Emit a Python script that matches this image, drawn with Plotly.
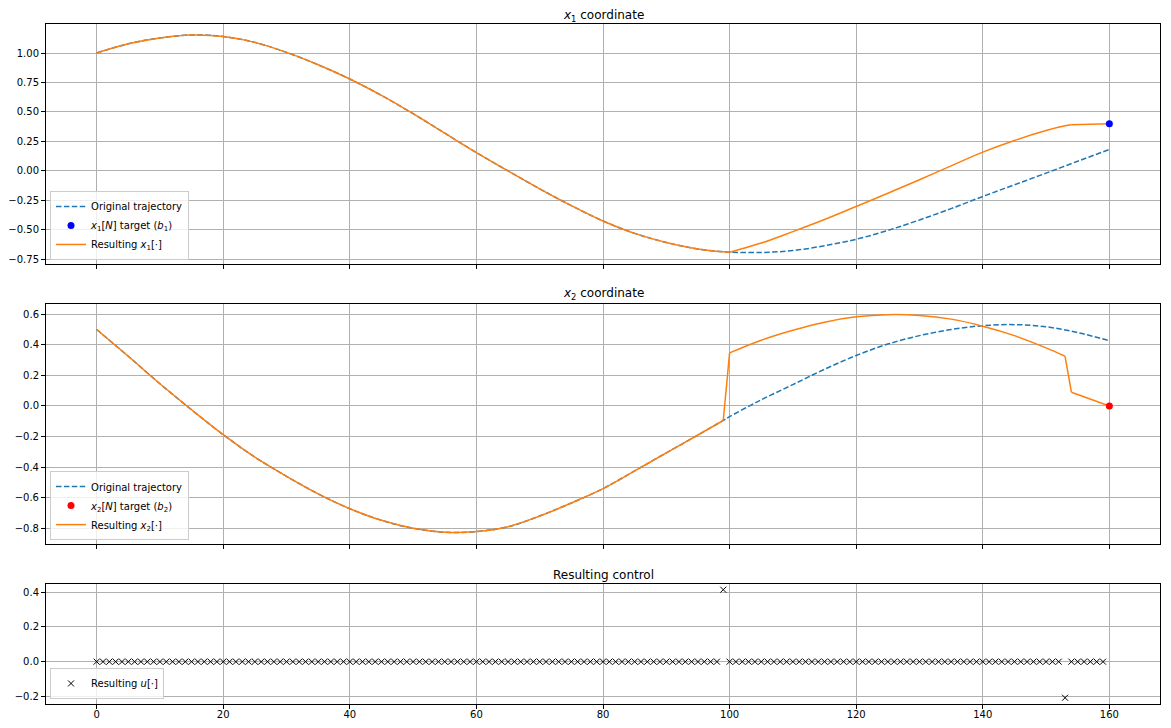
import plotly.graph_objects as go
from plotly.subplots import make_subplots

# ---- data ----
n_orig = [0, 5, 10, 15, 20, 25, 30, 35, 40, 45, 50, 55, 60, 65, 70, 75, 80, 85, 90, 95,
          99, 100, 105, 110, 115, 120, 125, 130, 135, 140, 145, 150, 155, 160]
x1_orig = [1.000, 1.078, 1.128, 1.153, 1.140, 1.090, 1.005, 0.900, 0.779, 0.640, 0.485, 0.320,
           0.155, 0.000, -0.152, -0.295, -0.425, -0.530, -0.607, -0.663,
           -0.687, -0.690, -0.692, -0.676, -0.635, -0.580, -0.505, -0.416, -0.320, -0.217,
           -0.118, -0.019, 0.082, 0.182]
x2_orig = [0.500, 0.325, 0.145, -0.025, -0.188, -0.335, -0.460, -0.575, -0.672, -0.748, -0.800,
           -0.826, -0.822, -0.790, -0.720, -0.635, -0.541, -0.425, -0.307, -0.190,
           -0.095, -0.070, 0.040, 0.140, 0.240, 0.330, 0.405, 0.460, 0.500, 0.525,
           0.532, 0.518, 0.480, 0.427]

n_res = [0, 5, 10, 15, 20, 25, 30, 35, 40, 45, 50, 55, 60, 65, 70, 75, 80, 85, 90, 95,
         99, 100, 105, 110, 115, 120, 125, 130, 135, 140, 145, 150, 153, 154, 160]
x1_res = [1.000, 1.078, 1.128, 1.153, 1.140, 1.090, 1.005, 0.900, 0.779, 0.640, 0.485, 0.320,
          0.155, 0.000, -0.152, -0.295, -0.425, -0.530, -0.607, -0.663,
          -0.687, -0.690, -0.612, -0.515, -0.413, -0.302, -0.190, -0.075, 0.043, 0.159,
          0.258, 0.342, 0.382, 0.391, 0.400]
x2_res = [0.500, 0.325, 0.145, -0.025, -0.188, -0.335, -0.460, -0.575, -0.672, -0.748, -0.800,
          -0.826, -0.822, -0.790, -0.720, -0.635, -0.541, -0.425, -0.307, -0.190,
          -0.095, 0.347, 0.430, 0.495, 0.548, 0.583, 0.597, 0.592, 0.568, 0.522,
          0.460, 0.380, 0.325, 0.090, 0.000]

# steps where the resulting trajectories have a kink / jump
x1_breaks = [100, 154]
x2_breaks = [99, 100, 153, 154]

n_target = [160]
x1_target = [0.40]
x2_target = [0.00]

n_u = list(range(160))
u_values = [0.0] * 99 + [0.415] + [0.0] * 53 + [-0.208] + [0.0] * 6

# ---- figure ----
BLUE = "#1f77b4"
ORANGE = "#ff7f0e"
FONT = "DejaVu Sans"


def segments(n, v, breaks):
    """Split a series at the given steps (endpoints shared) so each smooth
    piece can be drawn as a spline without overshooting the jumps."""
    idx = [0] + [n.index(b) for b in breaks] + [len(n) - 1]
    return [(n[a:b + 1], v[a:b + 1]) for a, b in zip(idx[:-1], idx[1:])]


fig = make_subplots(rows=3, cols=1, shared_xaxes=True)


def add_result(n, v, breaks, name, legend, row):
    for k, (sn, sv) in enumerate(segments(n, v, breaks)):
        fig.add_trace(go.Scatter(x=sn, y=sv, mode="lines", name=name,
                                 line=dict(color=ORANGE, width=1.5, shape="spline",
                                           smoothing=1.0),
                                 legend=legend, legendgroup=legend + "res",
                                 showlegend=(k == 0), legendrank=3), row=row, col=1)


# panel 1
fig.add_trace(go.Scatter(x=n_orig, y=x1_orig, mode="lines", name="Original trajectory",
                         line=dict(color=BLUE, width=1.5, dash="5.5px,2.4px",
                                   shape="spline", smoothing=1.0),
                         legend="legend", legendrank=1), row=1, col=1)
add_result(n_res, x1_res, x1_breaks, "Resulting <i>x</i><sub>1</sub>[·]", "legend", 1)
fig.add_trace(go.Scatter(x=n_target, y=x1_target, mode="markers",
                         name="<i>x</i><sub>1</sub>[<i>N</i>] target (<i>b</i><sub>1</sub>)",
                         marker=dict(color="blue", size=7),
                         legend="legend", legendrank=2), row=1, col=1)

# panel 2
fig.add_trace(go.Scatter(x=n_orig, y=x2_orig, mode="lines", name="Original trajectory",
                         line=dict(color=BLUE, width=1.5, dash="5.5px,2.4px",
                                   shape="spline", smoothing=1.0),
                         legend="legend2", legendrank=1), row=2, col=1)
add_result(n_res, x2_res, x2_breaks, "Resulting <i>x</i><sub>2</sub>[·]", "legend2", 2)
fig.add_trace(go.Scatter(x=n_target, y=x2_target, mode="markers",
                         name="<i>x</i><sub>2</sub>[<i>N</i>] target (<i>b</i><sub>2</sub>)",
                         marker=dict(color="red", size=7),
                         legend="legend2", legendrank=2), row=2, col=1)

# panel 3
fig.add_trace(go.Scatter(x=n_u, y=u_values, mode="markers",
                         name="Resulting <i>u</i>[·]",
                         marker=dict(symbol="x-thin", size=6, color="black",
                                     line=dict(color="black", width=1)),
                         legend="legend3"), row=3, col=1)

axis_style = dict(showline=True, mirror=True, linecolor="black", linewidth=1,
                  ticks="outside", ticklen=4, tickwidth=1, tickcolor="black",
                  showgrid=True, gridcolor="#b0b0b0", gridwidth=0.8, zeroline=False,
                  automargin=False,
                  tickfont=dict(size=10, color="black", family=FONT))

fig.update_xaxes(**axis_style)
fig.update_yaxes(**axis_style)
for i in (1, 2, 3):
    fig.update_xaxes(range=[-8, 168], tickmode="linear", tick0=0, dtick=20, row=i, col=1)
fig.update_xaxes(showticklabels=False, row=1, col=1)
fig.update_xaxes(showticklabels=False, row=2, col=1)
fig.update_xaxes(ticklabelstandoff=-3, row=3, col=1)

fig.update_yaxes(range=[-0.7925, 1.246], tickmode="linear", tick0=0, dtick=0.25,
                 tickformat=".2f", domain=[0.6466, 1.0], row=1, col=1)
fig.update_yaxes(range=[-0.903, 0.665], tickmode="linear", tick0=0, dtick=0.2,
                 tickformat=".1f", domain=[0.2353, 0.5878], row=2, col=1)
fig.update_yaxes(range=[-0.244, 0.448], tickmode="linear", tick0=0, dtick=0.2,
                 tickformat=".1f", domain=[0.0, 0.1765], row=3, col=1)

legend_style = dict(x=0.0036, xanchor="left", yanchor="bottom",
                    bgcolor="rgba(255,255,255,0.8)", bordercolor="#cccccc", borderwidth=1,
                    font=dict(size=10, color="black", family=FONT), traceorder="normal")

titles = [("<i>x</i><sub>1</sub> coordinate", 1.0, -1),
          ("<i>x</i><sub>2</sub> coordinate", 0.5878, 1),
          ("Resulting control", 0.1765, 1)]

# page body has an 8px default margin; size/margins chosen so the axes land
# at the same window pixels as the reference
fig.update_layout(
    width=1155, height=712,
    margin=dict(l=38, r=3, t=16, b=16, autoexpand=False),
    paper_bgcolor="white", plot_bgcolor="white",
    font=dict(family=FONT, size=10, color="black"),
    showlegend=True,
    legend=dict(y=0.653, **legend_style),
    legend2=dict(y=0.241, **legend_style),
    legend3=dict(y=0.0074, **legend_style),
    annotations=[dict(text=t, x=0.5, y=y, xref="paper", yref="paper",
                      xanchor="center", yanchor="bottom", yshift=s, borderpad=0,
                      showarrow=False,
                      font=dict(size=12, color="black", family=FONT))
                 for t, y, s in titles],
)

fig.write_html("out.html")
